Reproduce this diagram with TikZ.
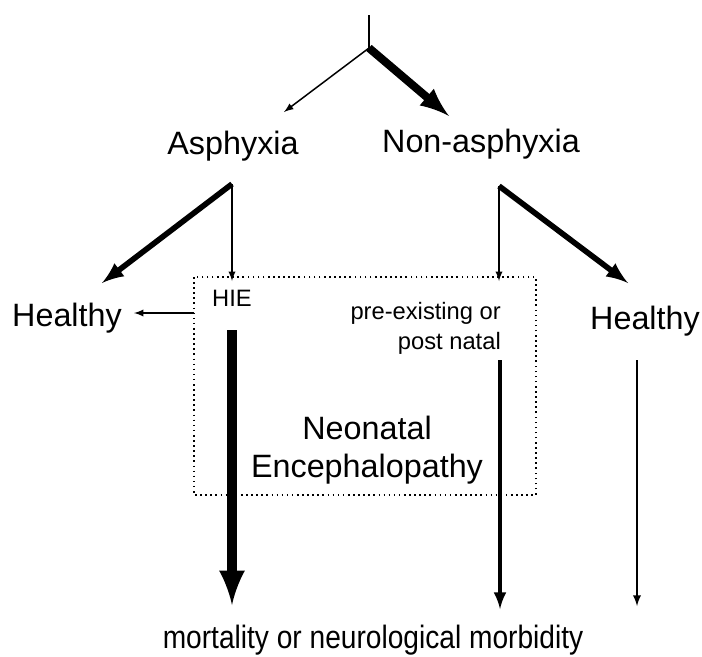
\documentclass[tikz,border=0pt]{standalone}
\usepackage{fontspec}
\setmainfont{Liberation Sans}
\usetikzlibrary{arrows}

\begin{document}
\begin{tikzpicture}[x=0.02cm,y=-0.02cm,
    big/.style={font=\fontsize{18.4}{22}\selectfont},
    small/.style={font=\fontsize{13.5}{17}\selectfont},
    thinarr/.style={-latex,line width=0.85pt},
    midarr/.style={-latex,line width=2.2pt},
    fatarr/.style={-latex,line width=3.2pt},
    hugearr/.style={-latex,line width=4.6pt}]
    \useasboundingbox (0,0) rectangle (702,656);
    %
    \node[big] (asph) at (233,146) {Asphyxia};
    \node[big] (nonasph) at (481,144) {Non-asphyxia};
    \node[big] (healthyL) at (67,318) {Healthy};
    \node[big] (healthyR) at (645,321) {Healthy};
    \node[big,align=center] (ne) at (367,450) {Neonatal\\Encephalopathy};
    \node[big,anchor=base,inner sep=0pt] (outcome) at (373,648) {\scalebox{0.87}[1]{mortality or neurological morbidity}};
    \node[small] (hie) at (232,298) {HIE};
    \node[small,align=right,anchor=north east] (pre) at (507,296) {pre-existing or\\post natal};
    %
    \draw[dotted,line width=0.9pt] (194,277) rectangle (536,495);
    %
    \coordinate (top) at (369,15);
    \coordinate (fork) at (369,48);
    \coordinate (asphfork) at (232,184);
    \coordinate (nonfork) at (499,186);
    \draw[line width=0.85pt] (top) -- (fork);
    \draw[thinarr] (fork) -- (284,112);
    \draw[hugearr] (fork) -- (449,116);
    %
    \draw[fatarr] (asphfork) -- (102,283);
    \draw[thinarr] (asphfork) -- (232,281);
    \draw[thinarr] (194,313) -- (134,313);
    \draw[thinarr] (nonfork) -- (499,281);
    \draw[fatarr] (nonfork) -- (628,283);
    %
    \draw[hugearr,line width=5.6pt] (hie.south |- 0,330) -- (232,605);
    \draw[midarr] (500,360) -- (500,609);
    \draw[thinarr,line width=1.1pt] (637,360) -- (637,606);
\end{tikzpicture}
\end{document}
